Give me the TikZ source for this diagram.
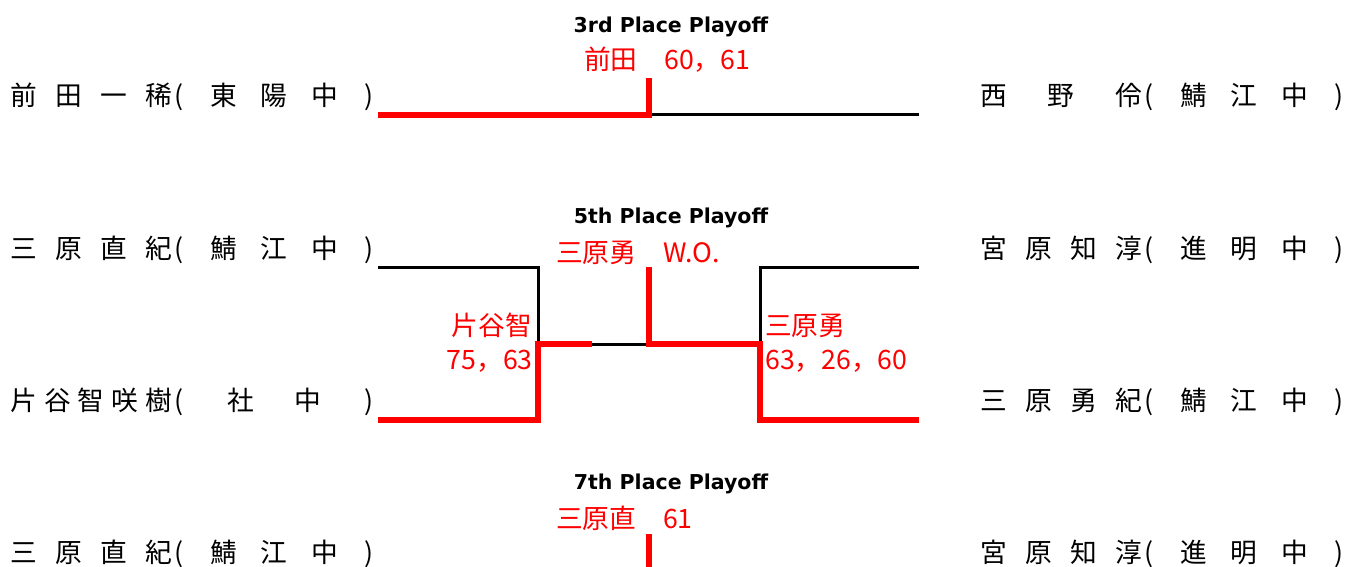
\documentclass[tikz,border=0pt]{standalone}
\usepackage{fontspec}
\newfontfamily\jpfont{Noto Sans CJK JP}
\newfontfamily\enfont{DejaVu Sans}
\newcommand{\entrant}[2]{\makebox[162pt][s]{#1}\makebox[14pt]{(}\makebox[176pt]{\hfill #2\hfill}\makebox[14pt]{)}}

\begin{document}
\begin{tikzpicture}[x=1pt,y=-1pt,inner sep=0pt]
    \tikzstyle{player}=[anchor=base west,font=\jpfont\fontsize{26.7}{26.7}\selectfont]
    \tikzstyle{playoff}=[anchor=base,font=\enfont\bfseries\fontsize{20.5}{20.5}\selectfont]
    \tikzstyle{result}=[font=\jpfont\fontsize{26.7}{26.7}\selectfont,text=red]
    \tikzstyle{won}=[draw=red,line width=5.5pt]
    \tikzstyle{lost}=[draw=black,line width=3pt]

    \useasboundingbox (0,0) rectangle (1360,567);

    \node[player] (L1) at (10,106) {\entrant{前\hfill 田\hfill 一\hfill 稀}{東\hfill 陽\hfill 中}};
    \node[player] (L2) at (10,258) {\entrant{三\hfill 原\hfill 直\hfill 紀}{鯖\hfill 江\hfill 中}};
    \node[player] (L3) at (10,410) {\entrant{片\hfill 谷\hfill 智\hfill 咲\hfill 樹}{社\hfill 中}};
    \node[player] (L4) at (10,562) {\entrant{三\hfill 原\hfill 直\hfill 紀}{鯖\hfill 江\hfill 中}};
    \node[player] (R1) at (980,106) {\entrant{西\hfill 野\hfill 伶}{鯖\hfill 江\hfill 中}};
    \node[player] (R2) at (980,258) {\entrant{宮\hfill 原\hfill 知\hfill 淳}{進\hfill 明\hfill 中}};
    \node[player] (R3) at (980,410) {\entrant{三\hfill 原\hfill 勇\hfill 紀}{鯖\hfill 江\hfill 中}};
    \node[player] (R4) at (980,562) {\entrant{宮\hfill 原\hfill 知\hfill 淳}{進\hfill 明\hfill 中}};

    \node[playoff] (T3) at (671,33) {3rd Place Playoff};
    \node[playoff] (T5) at (671,223) {5th Place Playoff};
    \node[playoff] (T7) at (671,489) {7th Place Playoff};

    \node[result,anchor=base west] (W3) at (584,70) {前田　60，61};
    \node[result,anchor=base west] (W5) at (556,262) {三原勇　W.O.};
    \node[result,anchor=base west] (W7) at (556,528) {三原直　61};
    \node[result,anchor=base east] (WL) at (532,335) {片谷智};
    \node[result,anchor=base east] (SL) at (533,369) {75，63};
    \node[result,anchor=base west] (WR) at (765,335) {三原勇};
    \node[result,anchor=base west] (SR) at (765,369) {63，26，60};

    \coordinate (a1) at (378,115);
    \coordinate (a2) at (919,115);
    \coordinate (c3) at (649,115);
    \coordinate (t3) at (649,78);
    \coordinate (b1) at (378,267);
    \coordinate (b2) at (378,420);
    \coordinate (b3) at (919,267);
    \coordinate (b4) at (919,420);
    \coordinate (j1) at (538,344);
    \coordinate (j2) at (760,344);
    \coordinate (k5) at (592,344);
    \coordinate (c5) at (649,344);
    \coordinate (t5) at (649,267);
    \coordinate (t7) at (649,534);
    \coordinate (c7) at (649,567);

    \draw[lost] (c3) -- (a2);
    \draw[lost] (b1) -| (j1);
    \draw[lost] (b3) -| (j2);
    \draw[lost] (k5) -- (c5);
    \draw[won] (a1) -| (t3);
    \draw[won] (b2) -| (j1) -- (k5);
    \draw[won] (t5) |- (j2) |- (b4);
    \draw[won] (t7) -- (c7);
\end{tikzpicture}
\end{document}
